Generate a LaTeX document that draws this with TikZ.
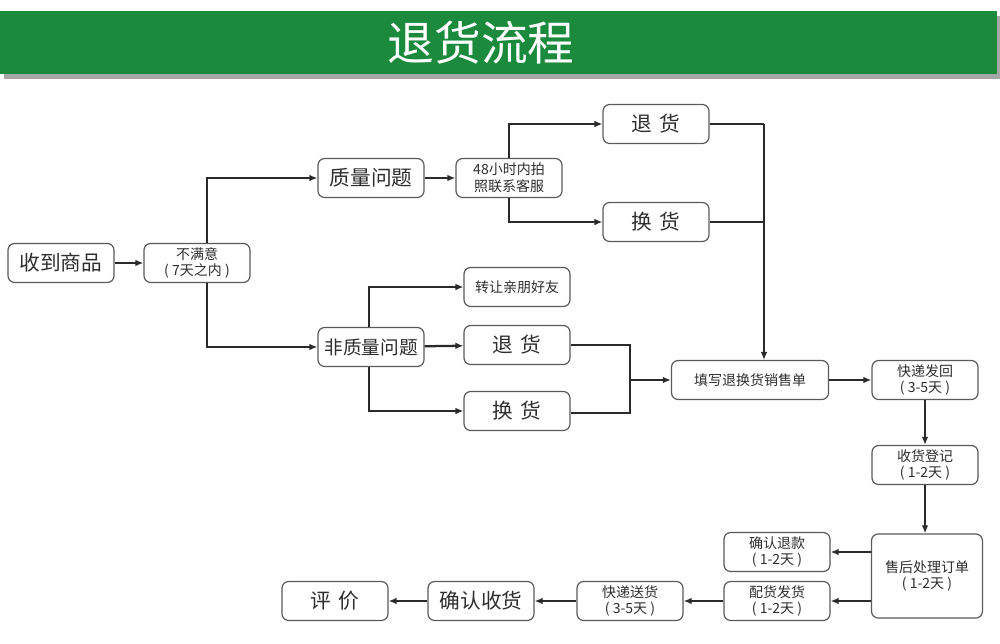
\documentclass[tikz,border=0pt]{standalone}
\usepackage{fontspec}
\setmainfont{Noto Sans CJK SC}
\usetikzlibrary{arrows.meta}
\definecolor{barg}{HTML}{1B8A3C}
\definecolor{boxc}{HTML}{5A5A5A}
\definecolor{txt}{HTML}{2E2E2E}
\definecolor{linec}{HTML}{2A2A2A}
\begin{document}
\begin{tikzpicture}[x=0.75pt,y=-0.75pt,
  box/.style={draw=boxc, line width=0.9pt, rounded corners=5pt, fill=white,
    minimum width=79.5pt, minimum height=29.25pt, inner sep=0pt, text=txt, align=center},
  big/.style={font=\fontsize{15.5}{18}\selectfont},
  mid/.style={font=\fontsize{14}{16}\selectfont},
  small/.style={font=\fontsize{10.5}{12.5}\selectfont},
  thick arrow/.style={draw=linec, line width=1.7pt, -{Latex[length=6pt,width=5pt]}},
  thin arrow/.style={draw=linec, line width=1.1pt, -{Latex[length=6pt,width=5pt]}},
  thin line/.style={draw=linec, line width=1.1pt},
]
\useasboundingbox (0,0) rectangle (1000,643);
% title bar
\fill[black!35] (4,16) rectangle (1000,79);
\fill[barg] (0,11) rectangle (997,74);
\node[text=white, font=\fontsize{35}{40}\selectfont] (title) at (481,43) {退货流程};

% nodes
\node[box,big] (recv) at (61,263) {收到商品};
\node[box,small] (unsat) at (197,263) {不满意\\( 7天之内 )};
\node[box,big] (qual) at (371,178) {质量问题};
\node[box,small] (photo) at (509,178) {48小时内拍\\照联系客服};
\node[box,big] (ret1) at (656,124) {退\,\,货};
\node[box,big] (exc1) at (656,222) {换\,\,货};
\node[box,small] (gift) at (517,287) {转让亲朋好友};
\node[box,mid] (nonq) at (371,347) {非质量问题};
\node[box,big] (ret2) at (517,345) {退\,\,货};
\node[box,big] (exc2) at (517,411) {换\,\,货};
\node[box,small,minimum width=117.75pt] (form) at (750,380) {填写退换货销售单};
\node[box,small] (back) at (925,380) {快递发回\\( 3-5天 )};
\node[box,small] (reg) at (925,465) {收货登记\\( 1-2天 )};
\node[box,small,minimum width=83.25pt,minimum height=63pt] (proc) at (927,576) {售后处理订单\\( 1-2天 )};
\node[box,small] (refund) at (777,552) {确认退款\\( 1-2天 )};
\node[box,small] (ship) at (777,601) {配货发货\\( 1-2天 )};
\node[box,small] (deliv) at (630,601) {快递送货\\( 3-5天 )};
\node[box,big] (conf) at (481,601) {确认收货};
\node[box,big] (rate) at (335,601) {评\,\,价};

% coordinates
\coordinate (uq) at (207,178);
\coordinate (ud) at (207,347);
\coordinate (pt) at (509,124);
\coordinate (pb) at (509,222);
\coordinate (r1) at (764,124);
\coordinate (e1) at (764,222);
\coordinate (ng) at (369,287);
\coordinate (ne) at (369,411);
\coordinate (r2) at (630,345);
\coordinate (e2) at (630,413);
\coordinate (m2) at (630,380);

% connectors
\draw[thick arrow] (recv) -- (unsat);
\draw[thick arrow] (unsat.north -| uq) -- (uq) -- (qual.west);
\draw[thick arrow] (unsat.south -| ud) -- (ud) -- (nonq.west);
\draw[thick arrow] (qual) -- (photo);
\draw[thin arrow] (photo.north -| pt) -- (pt) -- (ret1.west);
\draw[thin arrow] (photo.south -| pb) -- (pb) -- (exc1.west);
\draw[thin line] (ret1.east) -- (r1);
\draw[thin line] (exc1.east) -- (e1);
\draw[thin arrow] (r1) -- (form.north -| r1);
\draw[thin arrow] (nonq.north -| ng) -- (ng) -- (gift.west);
\draw[thin arrow] (nonq.south -| ne) -- (ne) -- (exc2.west |- ne);
\draw[thick arrow] (nonq) -- (ret2);
\draw[thin line] (ret2.east |- r2) -- (r2) -- (e2) -- (exc2.east |- e2);
\draw[thick arrow] (m2) -- (form.west);
\draw[thick arrow] (form) -- (back);
\draw[thick arrow] (back) -- (reg);
\draw[thick arrow] (reg) -- (reg.south |- proc.north);
\draw[thick arrow] (proc.west |- refund) -- (refund);
\draw[thick arrow] (proc.west |- ship) -- (ship);
\draw[thick arrow] (ship) -- (deliv);
\draw[thick arrow] (deliv) -- (conf);
\draw[thick arrow] (conf) -- (rate);
\end{tikzpicture}
\end{document}
